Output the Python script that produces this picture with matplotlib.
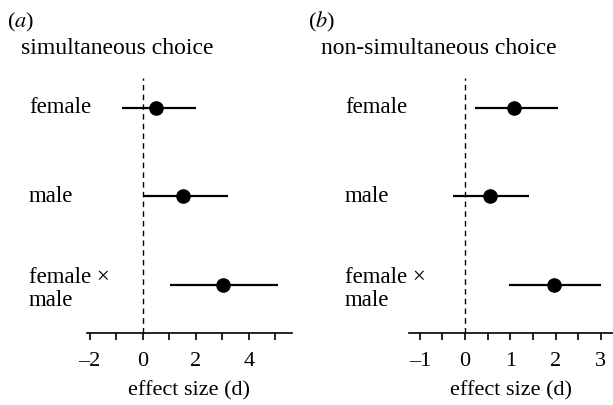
import numpy as np
import matplotlib.pyplot as plt
import matplotlib.transforms as mtransforms

plt.rcParams['font.family'] = ['Liberation Serif', 'DejaVu Serif']
plt.rcParams['mathtext.fontset'] = 'stix'

#------------------------------- donnees -----------------------------------
categories = ['female', 'male', 'female \u00d7\nmale']

# (a) simultaneous choice
sim_est = [0.5, 1.51, 3.03]
sim_lo = [-0.79, 0.02, 1.03]
sim_hi = [2.0, 3.2, 5.12]
sim_ticks = [-2, 0, 2, 4]
sim_ticklabels = ['\u20132', '0', '2', '4']

# (b) non-simultaneous choice
non_est = [1.09, 0.55, 1.96]
non_lo = [0.22, -0.26, 0.97]
non_hi = [2.05, 1.42, 3.0]
non_ticks = [-1, 0, 1, 2, 3]
non_ticklabels = ['\u20131', '0', '1', '2', '3']

W, H = 613, 405
fig = plt.figure(figsize=(W/100, H/100), dpi=100)

def panel(left, right, est, lo, hi, xlim, major, majlab, minor, letter, title, lab_x, let_x, tit_x):
    ax = fig.add_axes([left/W, 1-333/H, (right-left)/W, (333-78)/H])
    ypos = np.arange(len(est))
    est = np.array(est); lo = np.array(lo); hi = np.array(hi)
    ax.axvline(0, color='black', ls=(0, (4, 3)), lw=1.0, zorder=1)
    ax.errorbar(est, ypos, xerr=[est-lo, hi-est], fmt='o', color='black',
                ms=9.5, elinewidth=1.6, capsize=0, zorder=3)
    ax.set_ylim(2.54, -0.335)
    ax.set_xlim(*xlim)
    for s in ['top', 'right', 'left']:
        ax.spines[s].set_visible(False)
    ax.spines['bottom'].set_linewidth(1.2)
    ax.set_yticks([])
    ax.set_xticks(major)
    ax.set_xticklabels(majlab)
    ax.set_xticks(minor, minor=True)
    ax.tick_params(axis='x', which='both', direction='out', length=5, width=1.2,
                   labelsize=16, pad=9)
    ax.set_xlabel('effect size (d)', fontsize=16, labelpad=7)
    trans = mtransforms.blended_transform_factory(fig.transFigure, ax.transData)
    for i, c in enumerate(categories):
        off = 0.04 if '\n' in c else 0.0
        ax.text(lab_x/W, ypos[i]+off, c, transform=trans, ha='left', va='center',
                fontsize=16.5, linespacing=1.14)
    fig.text(let_x/W, 1-22/H, letter, fontsize=16, ha='left', va='center')
    fig.text(tit_x/W, 1-48/H, title, fontsize=17, ha='left', va='center')
    return ax

panel(87, 292, sim_est, sim_lo, sim_hi, (-2.1, 5.63), sim_ticks, sim_ticklabels,
      np.arange(-2, 6, 1), '($\\mathit{a}$)', 'simultaneous choice', 29, 7, 21)
panel(409, 613, non_est, non_lo, non_hi, (-1.24, 3.27), non_ticks, non_ticklabels,
      np.arange(-1, 3.5, 0.5), '($\\mathit{b}$)', 'non-simultaneous choice', 345, 308, 321)

plt.savefig('out.png', dpi=100)
